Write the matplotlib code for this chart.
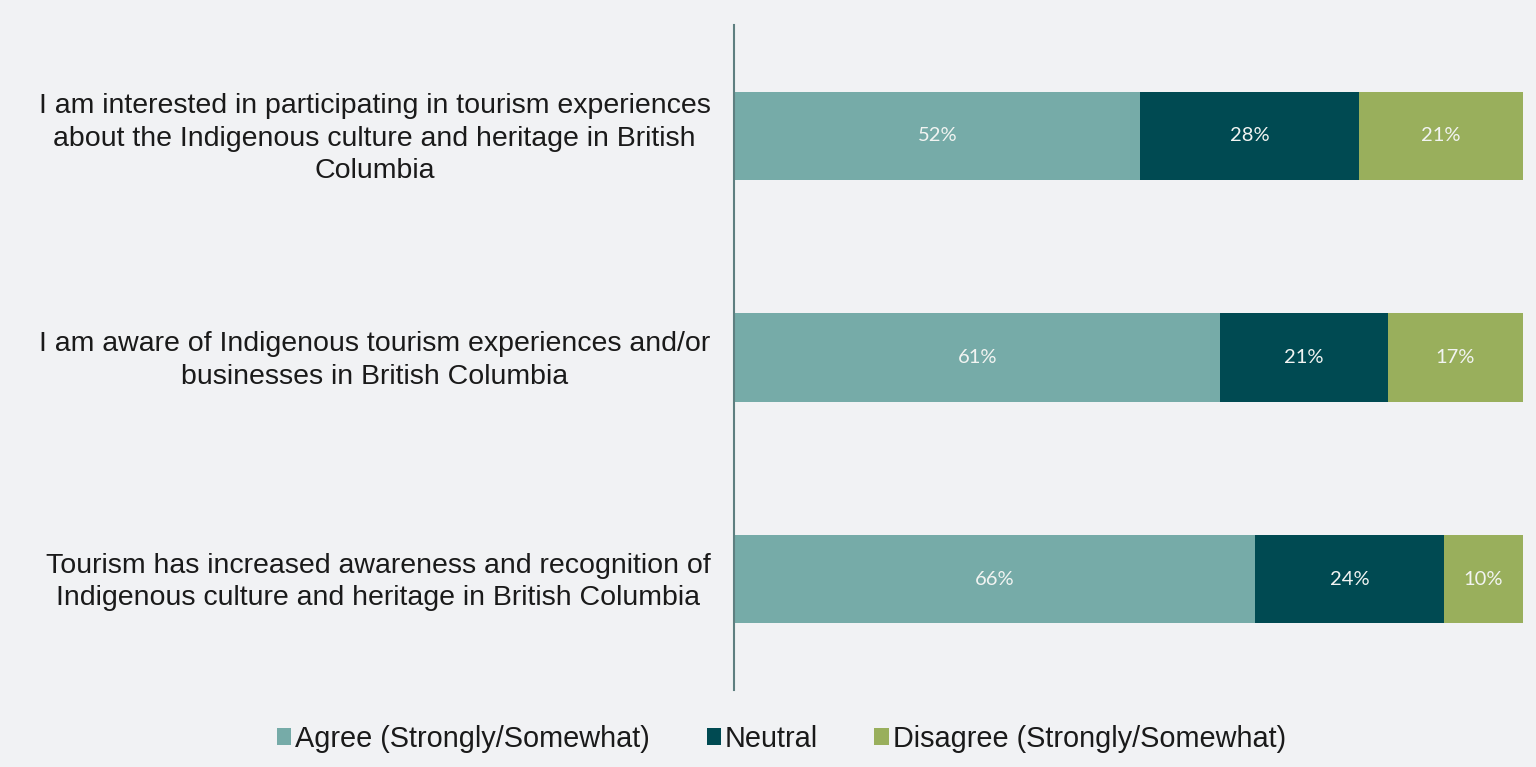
import matplotlib.pyplot as plt
from matplotlib.patches import Patch
import numpy as np

categories = [
    "I am interested in participating in tourism experiences\nabout the Indigenous culture and heritage in British\nColumbia",
    "I am aware of Indigenous tourism experiences and/or\nbusinesses in British Columbia",
    "Tourism has increased awareness and recognition of\nIndigenous culture and heritage in British Columbia",
]
series_names = ["Agree (Strongly/Somewhat)", "Neutral", "Disagree (Strongly/Somewhat)"]
agree = [52, 61, 66]
neutral = [28, 21, 24]
disagree = [21, 17, 10]
colors = ["#76ABA8", "#004A52", "#99AF5C"]

bg = "#F1F2F4"
fig = plt.figure(figsize=(15.36, 7.67), dpi=100, facecolor=bg)
ax = fig.add_axes([0.478, 0.1004, 0.5135, 0.8670], facecolor=bg)

data = np.array([agree, neutral, disagree], dtype=float)
shares = data / data.sum(axis=0) * 100  # 100% stacked
y = np.arange(len(categories))
left = np.zeros(len(categories))
for i, (name, col) in enumerate(zip(series_names, colors)):
    ax.barh(y, shares[i], left=left, height=0.4, color=col, label=name)
    for j in range(len(categories)):
        ax.text(left[j] + shares[i][j] / 2, y[j], f"{int(data[i][j])}%",
                ha="center", va="center", color="#F2F4F2",
                fontsize=14.5, family="Lato")
    left += shares[i]

ax.set_xlim(0, 100)
ax.set_ylim(2.5, -0.5)
ax.set_yticks([])
ax.set_xticks([])

# category labels, right-aligned against the axis line
for yi, cat in zip(y, categories):
    ax.annotate(cat, xy=(0, yi), xycoords=("axes fraction", "data"),
                xytext=(-17, -2.2), textcoords="offset points",
                ha="right", va="center", multialignment="center",
                fontsize=20.5, family="Liberation Sans", color="#1A1A1A",
                linespacing=1.32)

for s in ["top", "right", "bottom"]:
    ax.spines[s].set_visible(False)
ax.spines["left"].set_color("#5E7F80")
ax.spines["left"].set_linewidth(1.5)

handles = [Patch(facecolor=c, edgecolor="none") for c in colors]
fig.legend(handles, series_names, loc="center", bbox_to_anchor=(0.5088, 0.037),
           ncol=3, frameon=False, prop={"family": "Liberation Sans", "size": 20.8},
           handlelength=0.5, handleheight=0.5, handletextpad=0.14,
           columnspacing=1.95, labelcolor="#1A1A1A")

fig.savefig("out.png", dpi=100, facecolor=bg)
